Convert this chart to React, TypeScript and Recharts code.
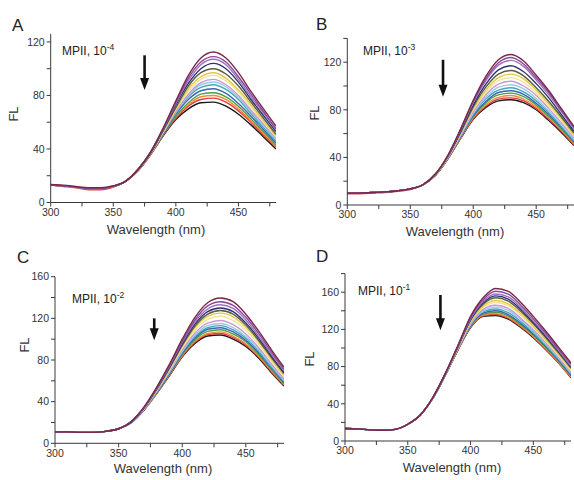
import React from 'react';
import { LineChart, Line, XAxis, YAxis, ReferenceLine } from 'recharts';

const WAVELENGTHS = [300, 310, 320, 330, 340, 350, 360, 370, 380, 390, 400, 410, 420, 430, 440, 450, 460, 470, 480];

const X_TICKS = [300, 325, 350, 375, 400, 425, 450, 475];

const COLORS = [
  '#7a2848', '#8a4a9a', '#a070c0', '#2c3470', '#5a5a48',
  '#e6c840', '#efe49a', '#c898d0', '#9cc8ec', '#40a8b8',
  '#3c64b4', '#4ca048', '#f08c3c', '#e03c3c', '#1a1a1a',
];

// Panel A: MPII, 10^-4
const seriesA: number[][] = [
  [13.5, 13, 12, 11, 11, 12.5, 16, 25, 38, 56, 76, 95, 108, 112.5, 108, 97, 83, 70, 57],
  [13, 12.5, 11.5, 10.5, 10.5, 12, 16, 25, 38, 55, 75, 93, 105, 109, 105, 94, 81, 68, 55],
  [13, 12.5, 11.5, 10.5, 10.5, 12, 16, 25, 38, 55, 74, 91, 103, 107, 103, 92, 79, 67, 54.5],
  [13, 12.5, 11.5, 10.5, 10.5, 12, 16, 25, 37.5, 54.5, 73, 89, 100, 104, 100, 90, 77, 65, 53],
  [13, 12.5, 11.5, 10.5, 10.5, 12, 16, 24.5, 37, 54, 71, 87, 97, 100, 96, 87, 75, 63, 51],
  [13, 12.5, 11.5, 10.5, 10.5, 12, 16, 24.5, 37, 53.5, 70, 85, 94, 97, 93, 84, 73, 61, 50],
  [13, 12.5, 11.5, 10.5, 10.5, 12, 16, 24.5, 37, 53, 69.5, 83, 92, 95, 91, 82.5, 71, 60, 49],
  [13, 12.5, 11.5, 10.5, 10.5, 12, 16, 24.5, 37, 52.5, 68, 81, 89.5, 92, 88, 80, 69, 58.5, 48],
  [13, 12.5, 11.5, 10.5, 10.5, 12, 16, 24.5, 37, 52.5, 67.5, 80, 88, 90, 86.5, 78.5, 68, 57.5, 47],
  [13, 12.5, 11.5, 10.5, 10.5, 12, 16, 24.5, 36.5, 52, 67, 79, 86, 88, 84.5, 77, 66.5, 56, 46],
  [13, 12.5, 11.5, 10.5, 10.5, 12, 16, 24, 36.5, 51.5, 66, 77, 83.5, 85, 81.5, 74, 64.5, 54.5, 44.5],
  [13, 12.5, 11.5, 10.5, 10.5, 12, 16, 24, 36.5, 51, 64.5, 74.5, 81, 82, 79, 72, 62.5, 53, 43],
  [13, 12.5, 11.5, 10.5, 10.5, 12, 16, 24, 36, 51, 64, 73, 79, 80, 77, 70, 61, 52, 42],
  [13, 12, 11, 9.5, 9.5, 11.5, 16, 24, 36, 50.5, 63, 72, 77, 78, 75, 68.5, 60, 50.5, 41.5],
  [13, 12.5, 11.5, 10.5, 10.5, 12, 16, 24, 36, 50, 62, 70, 74.5, 75, 72, 66, 58, 49, 40],
];

// Panel B: MPII, 10^-3
const seriesB: number[][] = [
  [10, 10, 10.5, 11, 12, 13.5, 17, 26, 42, 64, 88, 108, 122, 126.5, 121, 109, 96, 81, 66],
  [10, 10, 10.5, 11, 12, 13.5, 17, 26, 42, 63.5, 87, 106, 119.5, 124, 118.5, 107, 94.5, 79.5, 65],
  [10, 10, 10.5, 11, 12, 13.5, 17, 26, 41.5, 63, 86, 104.5, 117.5, 121.5, 116.5, 105, 92.5, 78.5, 64],
  [10, 10, 10.5, 11, 12, 13.5, 17, 26, 41, 62, 84, 101.5, 113.5, 117, 112, 102, 90, 76, 62],
  [10, 10, 10.5, 11, 12, 13.5, 17, 25.5, 41, 61, 82.5, 99, 110, 113, 108.5, 98.5, 87, 74, 60.5],
  [10, 10, 10.5, 11, 12, 13.5, 17, 25.5, 40.5, 60.5, 81, 96.5, 107, 110, 106, 96.5, 85, 72.5, 59],
  [10, 10, 10.5, 11, 12, 13.5, 17, 25.5, 40.5, 60, 80, 94.5, 104.5, 107, 103, 94, 83, 71, 58],
  [10, 10, 10.5, 11, 12, 13.5, 17, 25.5, 40, 59, 78.5, 92.5, 101.5, 104, 100, 92, 81, 69, 56.5],
  [10, 10, 10.5, 11, 12, 13.5, 17, 25.5, 40, 58.5, 77, 90.5, 99, 101, 97.5, 89.5, 79, 67.5, 55],
  [10, 10, 10.5, 11, 12, 13.5, 17, 25.5, 40, 58, 76, 89, 96.5, 98.5, 95, 87.5, 77.5, 66, 54],
  [10, 10, 10.5, 11, 12, 13.5, 17, 25, 39.5, 57.5, 75, 87, 94.5, 96, 93, 85.5, 76, 65, 53],
  [10, 10, 10.5, 11, 12, 13.5, 17, 25, 39.5, 57, 74.5, 86, 92.5, 94, 91, 84, 74.5, 64, 52.5],
  [10, 10, 10.5, 11, 12, 13.5, 17, 25, 39.5, 56.5, 73.5, 84.5, 90.5, 92, 89, 82.5, 73.5, 63, 51.5],
  [9.5, 9.5, 10, 10.5, 11.5, 13, 17, 25, 39, 56.5, 72.5, 83, 89, 90, 87.5, 81, 72, 62, 50.5],
  [10, 10, 10.5, 11, 12, 13.5, 17, 25, 39, 56, 72, 82, 87.5, 88.5, 86, 80, 71, 61, 50],
];

// Panel C: MPII, 10^-2
const seriesC: number[][] = [
  [11, 11, 10.5, 10.5, 11.5, 14, 21, 35, 54, 76, 100, 121, 135, 139.5, 136, 124, 108, 90, 73],
  [11, 11, 10.5, 10.5, 11.5, 14, 21, 34.5, 53.5, 75, 98, 118.5, 132, 136, 132.5, 121, 105.5, 88, 71],
  [11, 11, 10.5, 10.5, 11.5, 14, 21, 34.5, 53, 74, 97, 116.5, 129, 133, 129.5, 118.5, 103, 86, 69.5],
  [11, 11, 10.5, 10.5, 11.5, 14, 20.5, 34, 52.5, 73, 95.5, 114.5, 126.5, 130, 126.5, 115.5, 101, 84, 68],
  [11, 11, 10.5, 10.5, 11.5, 14, 20.5, 34, 52, 72.5, 94, 112.5, 124, 127.5, 124, 113.5, 99, 82.5, 67],
  [11, 11, 10.5, 10.5, 11.5, 14, 20.5, 34, 51.5, 71.5, 93, 111, 122, 125, 121.5, 111.5, 97.5, 81, 65.5],
  [11, 11, 10.5, 10.5, 11.5, 14, 20.5, 33.5, 51, 70.5, 91.5, 108.5, 119, 122, 118, 108.5, 95, 79, 64],
  [11, 11, 10.5, 10.5, 11.5, 14, 20.5, 33, 50.5, 69.5, 89.5, 106, 115.5, 118, 114, 105, 92, 76.5, 62],
  [11, 11, 10.5, 10.5, 11.5, 14, 20.5, 33, 50, 68.5, 88, 104, 113, 115, 111, 102.5, 90, 75, 60.5],
  [11, 11, 10.5, 10.5, 11.5, 14, 20, 33, 49.5, 68, 87.5, 102.5, 111, 113, 109, 101, 88.5, 73.5, 59.5],
  [11, 11, 10.5, 10.5, 11.5, 14, 20, 32.5, 49, 67, 86.5, 101, 109.5, 111, 107, 99, 87, 72.5, 58.5],
  [11, 11, 10.5, 10.5, 11.5, 14, 20, 32.5, 49, 66.5, 85.5, 99.5, 107.5, 109, 105, 97.5, 85.5, 71, 57.5],
  [11, 11, 10.5, 10.5, 11.5, 14, 20, 32, 48.5, 66, 84.5, 98, 105.5, 107, 103, 95.5, 84, 70, 56.5],
  [11, 11, 10.5, 10.5, 11.5, 14, 20, 32, 48, 65.5, 83.5, 97, 104.5, 105.5, 101.5, 94.5, 83, 69, 56],
  [11, 11, 10.5, 10.5, 11.5, 14, 20, 32, 48, 65, 83, 96, 103, 104, 100, 93, 82, 68, 55],
];

// Panel D: MPII, 10^-1
const seriesD: number[][] = [
  [13.5, 13, 12, 11.5, 12.5, 18, 28, 47, 73, 103, 134, 154, 164, 161, 149, 134, 118, 101, 84],
  [13.5, 13, 12, 11.5, 12.5, 18, 28, 47, 73, 102.5, 133, 152, 161, 158, 146, 131.5, 116, 99, 82.5],
  [13.5, 13, 12, 11.5, 12.5, 18, 28, 47, 72.5, 102, 131.5, 150, 158, 155, 143.5, 129, 114, 97.5, 80.5],
  [13.5, 13, 12, 11.5, 12.5, 18, 28, 46.5, 72.5, 101.5, 130.5, 148.5, 156, 152.5, 141.5, 127.5, 112.5, 96.5, 79.5],
  [13.5, 13, 12, 11.5, 12.5, 18, 28, 46.5, 72.5, 101.5, 130, 147, 154, 150.5, 139.5, 126, 111, 95, 78.5],
  [13.5, 13, 12, 11.5, 12.5, 18, 28, 46.5, 72, 101, 128.5, 145, 151, 147.5, 137, 123.5, 109, 93.5, 77],
  [13.5, 13, 12, 11.5, 12.5, 18, 28, 46.5, 72, 100.5, 128, 143.5, 149, 145.5, 135, 122, 107.5, 92, 75.5],
  [13.5, 13, 12, 11.5, 12.5, 18, 28, 46.5, 72, 100, 126.5, 141.5, 146, 142.5, 132, 119.5, 105.5, 90.5, 74],
  [13.5, 13, 12, 11.5, 12.5, 18, 28, 46.5, 71.5, 99.5, 125.5, 140, 144, 140.5, 130.5, 118, 104, 89.5, 73],
  [13.5, 13, 12, 11.5, 12.5, 18, 28, 46, 71.5, 99, 125, 139, 142, 138, 128.5, 116.5, 103, 88, 72],
  [13.5, 13, 12, 11.5, 12.5, 18, 28, 46, 71.5, 99, 124, 137.5, 140, 136, 126.5, 115, 101.5, 87, 70.5],
  [13.5, 13, 12, 11.5, 12.5, 18, 28, 46, 71, 98.5, 123.5, 136.5, 138.5, 134.5, 125, 114, 100.5, 86, 70],
  [13.5, 13, 12, 11.5, 12.5, 18, 28, 46, 71, 98.5, 123, 135.5, 137, 133, 124, 112.5, 99.5, 85, 69],
  [13.5, 13, 12, 11.5, 12.5, 18, 28, 46, 71, 98, 122.5, 134.5, 136, 132, 123, 112, 98.5, 84.5, 68.5],
  [13.5, 13, 12, 11.5, 12.5, 18, 28, 46, 71, 98, 122, 134, 135, 131, 122, 111, 98, 84, 68],
];

const TICKS_A = [0, 20, 40, 60, 80, 100, 120];
const TICKS_B = [0, 20, 40, 60, 80, 100, 120, 140];
const TICKS_C = [0, 20, 40, 60, 80, 100, 120, 140, 160];
const TICKS_D = [0, 20, 40, 60, 80, 100, 120, 140, 160, 180];

const FONT = '"Liberation Sans", Arial, Helvetica, sans-serif';
const AXIS = '#3a3a3a';

const buildRows = (series: number[][]) =>
  WAVELENGTHS.map((w, i) => {
    const row: Record<string, number> = { w };
    series.forEach((s, k) => {
      row[`s${k}`] = s[i];
    });
    return row;
  });

const XTick = (props: any) => {
  const { x, y, payload } = props;
  if (payload.value % 50 !== 0) return <g />;
  return (
    <text x={x} y={y} dy="0.71em" textAnchor="middle" fontSize={10.5} fill="#333" fontFamily={FONT}>
      {payload.value}
    </text>
  );
};

const YTick = (props: any) => {
  const { x, y, payload } = props;
  if (payload.value % 40 !== 0) return <g />;
  return (
    <text x={x} y={y} dy="0.355em" textAnchor="end" fontSize={10.5} fill="#333" fontFamily={FONT}>
      {payload.value}
    </text>
  );
};

const ArrowShape = (props: any) => {
  const { x1, y1, x2, y2 } = props;
  return (
    <g>
      <line x1={x1} y1={y1} x2={x2} y2={y2 - 10} stroke="#111" strokeWidth={2.6} />
      <polygon points={`${x2 - 4.5},${y2 - 12} ${x2 + 4.5},${y2 - 12} ${x2},${y2}`} fill="#111" />
    </g>
  );
};

type PanelProps = {
  left: number;
  top: number;
  width: number;
  height: number;
  margin: { top: number; right: number; bottom: number; left: number };
  series: number[][];
  yMax: number;
  yTicks: number[];
  arrow: [number, number, number];
};

const Panel = ({ left, top, width, height, margin, series, yMax, yTicks, arrow }: PanelProps) => {
  const data = buildRows(series);
  const order = series.map((_, k) => k).reverse();
  return (
    <div style={{ position: 'absolute', left, top, width, height }}>
      <LineChart width={width} height={height} data={data} margin={margin}>
        <XAxis
          type="number"
          dataKey="w"
          domain={[300, 480]}
          ticks={X_TICKS}
          interval={0}
          tick={<XTick />}
          tickSize={4}
          height={25}
          axisLine={{ stroke: AXIS, strokeWidth: 1 }}
          tickLine={{ stroke: AXIS }}
          allowDataOverflow
        />
        <YAxis
          type="number"
          domain={[0, yMax]}
          ticks={yTicks}
          interval={0}
          tick={<YTick />}
          tickSize={4}
          width={30}
          axisLine={{ stroke: AXIS, strokeWidth: 1 }}
          tickLine={{ stroke: AXIS }}
          allowDataOverflow
        />
        {order.map((k) => (
          <Line
            key={k}
            type="monotone"
            dataKey={`s${k}`}
            stroke={COLORS[k]}
            strokeWidth={1.4}
            dot={false}
            activeDot={false}
            isAnimationActive={false}
          />
        ))}
        <ReferenceLine
          segment={[
            { x: arrow[0], y: arrow[1] },
            { x: arrow[0], y: arrow[2] },
          ]}
          ifOverflow="visible"
          shape={ArrowShape}
        />
      </LineChart>
    </div>
  );
};

const Annot = ({ x, y, exp }: { x: number; y: number; exp: string }) => (
  <text x={x} y={y} fontSize={12} fill="#222" fontFamily={FONT}>
    MPII, 10
    <tspan dy={-5} fontSize={8.5}>
      {exp}
    </tspan>
  </text>
);

const Letter = ({ x, y, t }: { x: number; y: number; t: string }) => (
  <text x={x} y={y} fontSize={17} fill="#222" fontFamily={FONT}>
    {t}
  </text>
);

const FL = ({ x, y }: { x: number; y: number }) => (
  <text x={x} y={y} fontSize={13} fill="#333" fontFamily={FONT} textAnchor="middle" transform={`rotate(-90 ${x} ${y})`} dy="0.35em">
    FL
  </text>
);

const XLabel = ({ x, y }: { x: number; y: number }) => (
  <text x={x} y={y} fontSize={13} fill="#333" fontFamily={FONT} textAnchor="middle">
    Wavelength (nm)
  </text>
);

export default function App() {
  return (
    <div style={{ position: 'absolute', left: 0, top: 0, width: 574, height: 480, background: '#fff', overflow: 'hidden', fontFamily: FONT }}>
      <Panel
        left={0}
        top={0}
        width={290}
        height={240}
        margin={{ top: 33.9, right: 14, bottom: 12.5, left: 20.7 }}
        series={seriesA}
        yMax={126}
        yTicks={TICKS_A}
        arrow={[375, 110, 84]}
      />
      <Panel
        left={290}
        top={0}
        width={284}
        height={240}
        margin={{ top: 38.4, right: 0, bottom: 10, left: 27.3 }}
        series={seriesB}
        yMax={140}
        yTicks={TICKS_B}
        arrow={[376, 122, 91]}
      />
      <Panel
        left={0}
        top={240}
        width={290}
        height={240}
        margin={{ top: 36.7, right: 6, bottom: 11.7, left: 25 }}
        series={seriesC}
        yMax={160}
        yTicks={TICKS_C}
        arrow={[378, 120, 99]}
      />
      <Panel
        left={290}
        top={240}
        width={284}
        height={240}
        margin={{ top: 33.6, right: 3, bottom: 14, left: 25 }}
        series={seriesD}
        yMax={180}
        yTicks={TICKS_D}
        arrow={[376, 157, 119]}
      />
      <svg width={574} height={480} style={{ position: 'absolute', left: 0, top: 0, pointerEvents: 'none' }}>
        <Letter x={12} y={31} t="A" />
        <Letter x={316} y={30} t="B" />
        <Letter x={17} y={263} t="C" />
        <Letter x={316} y={262} t="D" />
        <Annot x={62} y={55} exp="-4" />
        <Annot x={363} y={55} exp="-3" />
        <Annot x={72} y={303} exp="-2" />
        <Annot x={358} y={295} exp="-1" />
        <FL x={13} y={114} />
        <FL x={314} y={113} />
        <FL x={24} y={345} />
        <FL x={309} y={359} />
        <XLabel x={156} y={234} />
        <XLabel x={455} y={236} />
        <XLabel x={163} y={473} />
        <XLabel x={452} y={472} />
      </svg>
    </div>
  );
}
